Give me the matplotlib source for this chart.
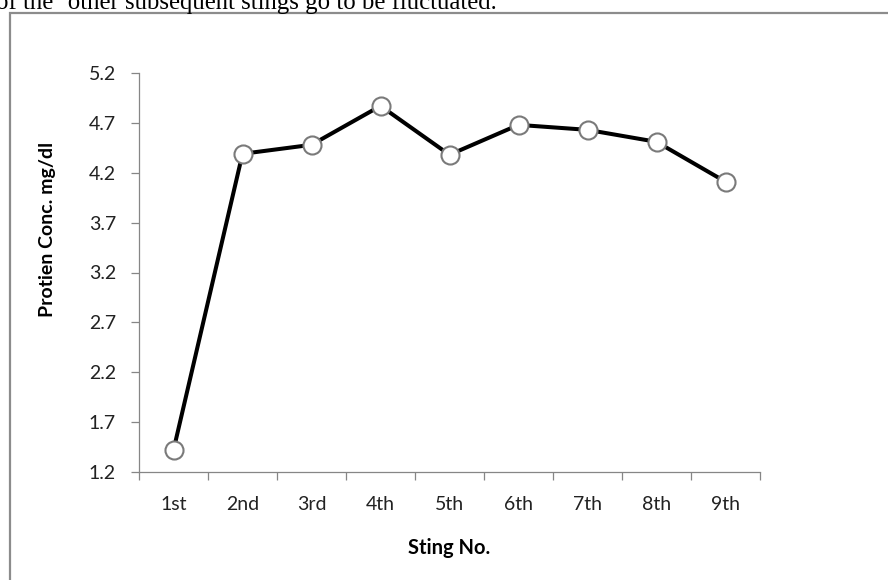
import numpy as np
import matplotlib
matplotlib.use("Agg")
import matplotlib.pyplot as plt
from matplotlib.patches import Rectangle
from matplotlib.ticker import FixedLocator

# ---- data ----
categories = ["1st", "2nd", "3rd", "4th", "5th", "6th", "7th", "8th", "9th"]
protein = [1.42, 4.39, 4.48, 4.87, 4.38, 4.68, 4.63, 4.51, 4.11]
y_ticks = [1.2, 1.7, 2.2, 2.7, 3.2, 3.7, 4.2, 4.7, 5.2]
x_title = "Sting No."
y_title = "Protien Conc. mg/dl"
top_text = "of the \u2018other subsequent stings go to be fluctuated."

W, H = 888, 580
fig = plt.figure(figsize=(W / 100, H / 100), dpi=100)
fig.patch.set_facecolor("white")

# outer frame (only left and top visible)
frame = Rectangle((9.5 / W, -0.1), 1.2, 1 - 12.5 / H + 0.1,
                  transform=fig.transFigure, fill=False,
                  edgecolor="#8c8c8c", lw=1.6, clip_on=False)
fig.patches.append(frame)

# cut-off text line above the frame
fig.text(497 / W, 1 - 8.5 / H, top_text, ha="right", va="baseline",
         family="Liberation Serif", fontsize=17.8, color="black")

ax = fig.add_axes([139 / W, (H - 472) / H, (760 - 139) / W, (472 - 73) / H])
x = np.arange(len(categories))
ax.plot(x, protein, color="black", lw=2.9, marker="o", ms=13,
        mfc="white", mec="#7a7a7a", mew=1.5, zorder=3, clip_on=False)

ax.set_xlim(-0.5, len(categories) - 0.5)
ax.set_ylim(y_ticks[0], y_ticks[-1])
ax.set_yticks(y_ticks)
ax.set_yticklabels([f"{v:.1f}" for v in y_ticks])
ax.set_xticks(x)
ax.set_xticklabels(categories)
ax.xaxis.set_minor_locator(FixedLocator(np.arange(len(categories) + 1) - 0.5))

axis_col = "#868686"
for s in ["top", "right"]:
    ax.spines[s].set_visible(False)
for s in ["left", "bottom"]:
    ax.spines[s].set_color(axis_col)
    ax.spines[s].set_linewidth(0.9)

ax.tick_params(axis="y", direction="out", length=5.5, width=0.9,
               color=axis_col, pad=11, labelsize=14, labelcolor="#222222")
ax.tick_params(axis="x", which="major", length=0, pad=17,
               labelsize=14, labelcolor="#222222")
ax.tick_params(axis="x", which="minor", direction="out", length=6,
               width=0.9, color=axis_col)
for lab in ax.get_xticklabels() + ax.get_yticklabels():
    lab.set_family("Lato")

fig.text(449.5 / W, 1 - 548 / H, x_title, ha="center", va="center",
         family="Lato", fontweight="bold", fontsize=14.5, color="black")
fig.text(47 / W, 1 - 229 / H, y_title, ha="center", va="center",
         rotation=90, family="Lato", fontweight="bold", fontsize=14,
         color="black")

fig.savefig("out.png", dpi=100, facecolor="white")
